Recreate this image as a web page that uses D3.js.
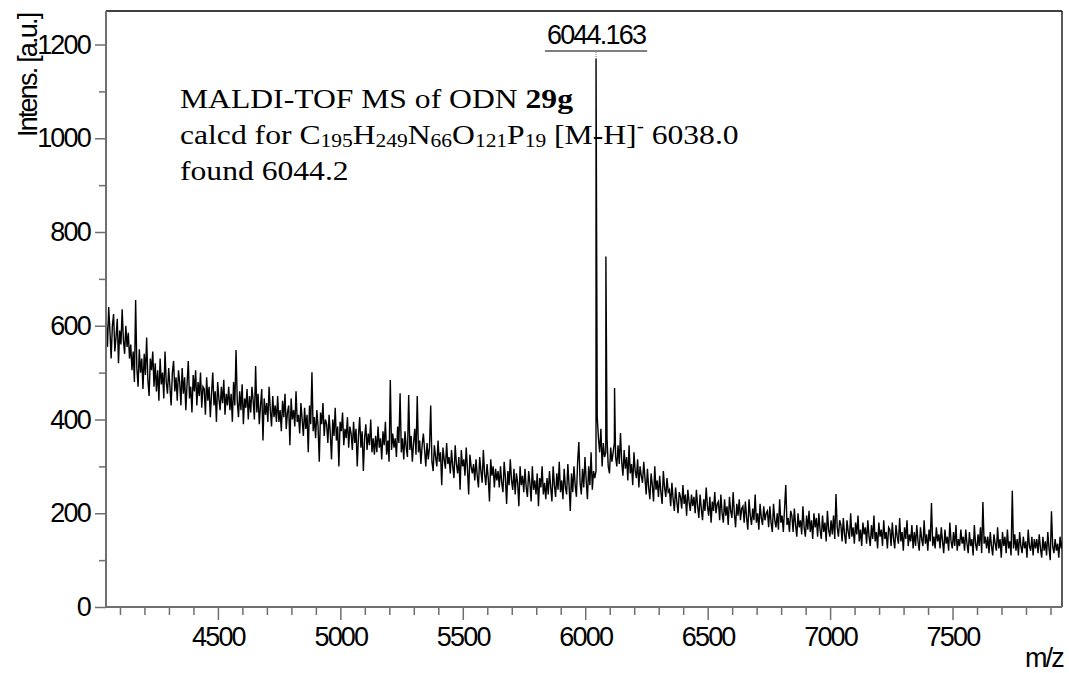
<!DOCTYPE html>
<html>
<head>
<meta charset="utf-8">
<script src="https://cdn.jsdelivr.net/npm/d3@7"></script>
<style>
  html, body { margin: 0; padding: 0; background: #fff; }
  svg { display: block; }
  .sans { font-family: "Liberation Sans", Arial, sans-serif; }
  .serif { font-family: "Liberation Serif", "Times New Roman", serif; }
</style>
</head>
<body>
<svg id="chart" width="1069" height="673"></svg>
<script>
// Background spectrum, sampled every 5 m/z starting at 4044
const mzStart = 4044;
const mzStep = 5;
const intensity = [
  610, 555, 640, 590, 530, 600, 625, 545, 575, 615, 520, 590, 560, 635, 570, 540, 600, 555, 585, 530, // 4044
  560, 505, 545, 480, 655, 510, 470, 550, 500, 530, 465, 540, 495, 575, 485, 450, 530, 505, 545, 470, // 4144
  520, 460, 505, 440, 530, 475, 500, 445, 545, 480, 455, 510, 470, 430, 500, 525, 460, 490, 440, 505, // 4244
  480, 430, 510, 455, 490, 420, 475, 525, 445, 470, 415, 495, 460, 505, 430, 480, 450, 500, 425, 470, // 4344
  465, 410, 490, 440, 470, 405, 455, 500, 430, 460, 395, 480, 445, 420, 470, 435, 485, 410, 455, 430, // 4444
  470, 420, 455, 395, 480, 430, 548, 440, 405, 460, 420, 475, 390, 445, 425, 465, 400, 450, 415, 470, // 4544
  440, 400, 514, 415, 455, 390, 430, 465, 355, 445, 410, 435, 395, 470, 420, 385, 450, 405, 430, 395, // 4644
  450, 395, 420, 375, 440, 405, 455, 380, 415, 430, 345, 445, 400, 420, 385, 460, 395, 410, 370, 435, // 4744
  400, 365, 425, 380, 410, 330, 430, 390, 501, 375, 405, 360, 420, 385, 310, 415, 390, 435, 365, 400, // 4844
  390, 350, 410, 370, 315, 400, 365, 425, 355, 385, 300, 395, 375, 415, 345, 380, 360, 405, 340, 385, // 4944
  370, 335, 395, 350, 380, 300, 365, 405, 340, 375, 290, 360, 390, 335, 370, 345, 400, 330, 360, 325, // 5044
  365, 330, 385, 340, 360, 315, 375, 345, 395, 325, 355, 310, 484, 335, 370, 340, 360, 320, 385, 350, // 5144
  456, 330, 360, 315, 375, 340, 320, 452, 335, 365, 310, 350, 380, 325, 450, 330, 355, 305, 345, 370, // 5244
  335, 300, 350, 315, 340, 430, 310, 290, 345, 320, 300, 355, 310, 330, 260, 340, 315, 295, 350, 305, // 5344
  320, 285, 335, 300, 275, 345, 305, 285, 320, 250, 335, 300, 315, 280, 340, 295, 240, 325, 300, 285, // 5444
  305, 270, 315, 280, 255, 320, 290, 265, 335, 285, 260, 305, 275, 225, 315, 280, 300, 255, 295, 270, // 5544
  290, 255, 300, 265, 245, 310, 275, 220, 290, 260, 315, 270, 250, 295, 240, 285, 265, 215, 300, 260, // 5644
  280, 245, 295, 255, 235, 290, 265, 225, 300, 250, 270, 240, 285, 215, 275, 255, 300, 240, 265, 230, // 5744
  275, 240, 290, 255, 225, 300, 260, 235, 285, 250, 310, 245, 270, 230, 295, 255, 240, 305, 260, 205, // 5844
  285, 245, 300, 260, 235, 310, 352, 265, 240, 295, 255, 320, 270, 230, 300, 260, 330, 250, 290, 275, // 5944
  290, 405, 360, 330, 380, 300, 350, 320, 330, 360, 300, 285, 340, 310, 330, 350, 320, 300, 345, 305, // 6044
  371, 310, 280, 335, 295, 320, 270, 345, 285, 305, 260, 330, 290, 275, 315, 255, 300, 280, 265, 310, // 6144
  275, 240, 295, 255, 230, 285, 260, 225, 300, 250, 270, 235, 280, 245, 220, 290, 255, 235, 275, 245, // 6244
  250, 215, 265, 230, 205, 255, 225, 200, 245, 235, 210, 260, 220, 240, 195, 250, 225, 205, 240, 215, // 6344
  235, 200, 250, 215, 190, 240, 210, 185, 230, 205, 255, 215, 195, 235, 180, 225, 205, 245, 200, 220, // 6444
  225, 185, 240, 200, 180, 230, 195, 215, 175, 235, 205, 190, 245, 200, 170, 220, 195, 230, 185, 210, // 6544
  215, 180, 225, 190, 165, 230, 195, 175, 210, 185, 240, 180, 200, 165, 220, 190, 175, 215, 185, 200, // 6644
  205, 170, 215, 180, 160, 220, 185, 170, 200, 165, 230, 180, 195, 160, 210, 260, 175, 190, 160, 205, // 6744
  195, 160, 210, 175, 150, 200, 170, 185, 155, 215, 170, 150, 195, 165, 205, 160, 185, 145, 200, 170, // 6844
  190, 150, 200, 165, 145, 195, 160, 180, 140, 205, 165, 150, 185, 155, 195, 145, 241, 170, 150, 185, // 6944
  175, 140, 190, 155, 135, 185, 160, 145, 200, 150, 170, 135, 180, 155, 195, 140, 165, 130, 180, 155, // 7044
  170, 135, 185, 150, 130, 175, 145, 195, 140, 160, 125, 180, 150, 165, 130, 185, 145, 160, 125, 170, // 7144
  165, 130, 180, 145, 125, 175, 150, 135, 190, 140, 160, 120, 170, 145, 185, 130, 155, 140, 175, 125, // 7244
  160, 130, 175, 140, 120, 170, 145, 130, 185, 135, 155, 120, 165, 140, 222, 130, 150, 125, 170, 140, // 7344
  155, 125, 170, 140, 115, 165, 135, 150, 120, 180, 140, 125, 160, 130, 175, 120, 145, 130, 165, 135, // 7444
  150, 120, 165, 135, 115, 160, 130, 145, 110, 175, 135, 120, 155, 130, 170, 115, 224, 135, 150, 125, // 7544
  150, 115, 160, 130, 110, 155, 135, 120, 170, 125, 145, 105, 160, 130, 150, 115, 165, 125, 140, 110, // 7644
  248, 125, 155, 120, 145, 110, 160, 130, 115, 150, 125, 140, 105, 165, 130, 120, 150, 110, 145, 125, // 7744
  145, 115, 155, 125, 105, 150, 120, 140, 110, 160, 125, 100, 204, 130, 115, 145, 120, 135, 105, 150, // 7844
  125, 140, 115                                                                                        // 7944
];

// Resolved peaks of the oligonucleotide
const peakMz = [6044.163, 6084.4, 6119.8];
const peakIntensity = [1170, 748, 467];
const labelledPeak = 0;

// Axis ticks
const yMajorTicks = [0, 200, 400, 600, 800, 1000, 1200];
const yMinorTicks = [100, 300, 500, 700, 900, 1100];
const xMajorTicks = [4500, 5000, 5500, 6000, 6500, 7000, 7500];
const xMinorTicks = d3.range(4100, 8000, 100).filter(v => v % 500 !== 0);

const xLabel = "m/z";
const yLabel = "Intens. [a.u.]";

const svg = d3.select("#chart");
const plot = { left: 106, right: 1062, top: 11, bottom: 607 };
const axisGrey = "#6f6f6f";

const x = d3.scaleLinear().domain([4043, 7947]).range([plot.left, plot.right]);
const y = d3.scaleLinear().domain([0, 1271.5]).range([plot.bottom, plot.top]);

// Merge the sampled background with the peak centroids
const points = intensity.map((v, i) => ({ mz: mzStart + i * mzStep, v }))
  .concat(peakMz.map((m, i) => ({ mz: m, v: peakIntensity[i] })))
  .sort((a, b) => a.mz - b.mz);

svg.append("defs").append("clipPath").attr("id", "plotClip")
  .append("rect")
  .attr("x", plot.left).attr("y", plot.top)
  .attr("width", plot.right - plot.left).attr("height", plot.bottom - plot.top);

// Annotation block (Times, slightly widened)
const note = svg.append("g").attr("class", "serif").attr("font-size", 28).attr("fill", "#000")
  .attr("transform", "translate(180,0) scale(1.13,1) translate(-180,0)");
const l1 = note.append("text").attr("x", 180).attr("y", 108);
l1.append("tspan").text("MALDI-TOF MS of ODN ");
l1.append("tspan").attr("font-weight", "bold").text("29g");

const l2 = note.append("text").attr("x", 180).attr("y", 144);
const formula = [
  ["calcd for C", false], ["195", true], ["H", false], ["249", true],
  ["N", false], ["66", true], ["O", false], ["121", true], ["P", false], ["19", true],
  [" [M-H]", false]
];
const subShift = 3;
let lowered = false;
formula.forEach(([t, sub]) => {
  const s = l2.append("tspan").text(t);
  if (sub) {
    s.attr("font-size", 19);
    if (!lowered) { s.attr("dy", subShift); lowered = true; }
  } else if (lowered) {
    s.attr("dy", -subShift); lowered = false;
  }
});
l2.append("tspan").attr("font-size", 19).attr("dy", -12).text("-");
l2.append("tspan").attr("dy", 12).text(" 6038.0");

note.append("text").attr("x", 180).attr("y", 180).text("found 6044.2");

// Spectrum trace
const line = d3.line().x(d => x(d.mz)).y(d => y(d.v));
svg.append("path")
  .datum(points)
  .attr("clip-path", "url(#plotClip)")
  .attr("fill", "none")
  .attr("stroke", "#000")
  .attr("stroke-width", 1.4)
  .attr("stroke-linejoin", "miter")
  .attr("d", line);

// Frame: top and right in black
svg.append("line").attr("x1", plot.left).attr("x2", plot.right).attr("y1", plot.top).attr("y2", plot.top)
  .attr("stroke", "#000").attr("stroke-width", 1.3);
svg.append("line").attr("x1", plot.right).attr("x2", plot.right).attr("y1", plot.top).attr("y2", plot.bottom)
  .attr("stroke", "#000").attr("stroke-width", 1.3);

function styleAxis(g) {
  g.select(".domain").attr("stroke", axisGrey).attr("stroke-width", 2);
  g.selectAll(".tick line").attr("stroke", axisGrey).attr("stroke-width", 1.5);
  g.selectAll(".tick text")
    .attr("class", "sans")
    .attr("fill", "#000")
    .attr("font-size", 27)
    .attr("letter-spacing", "-1.8px");
}

// Y axis
svg.append("g").attr("transform", `translate(${plot.left},0)`)
  .call(d3.axisLeft(y).tickValues(yMinorTicks).tickSize(7).tickFormat(""))
  .call(g => { styleAxis(g); g.select(".domain").remove(); });
svg.append("g").attr("transform", `translate(${plot.left},0)`)
  .call(d3.axisLeft(y).tickValues(yMajorTicks).tickSize(11).tickSizeOuter(0).tickPadding(5).tickFormat(d3.format("d")))
  .call(styleAxis)
  .call(g => g.select(".domain").attr("d", `M0,${plot.bottom}V${plot.top}`));

// X axis
svg.append("g").attr("transform", `translate(0,${plot.bottom})`)
  .call(d3.axisBottom(x).tickValues(xMinorTicks).tickSize(8).tickFormat(""))
  .call(g => { styleAxis(g); g.select(".domain").remove(); });
svg.append("g").attr("transform", `translate(0,${plot.bottom})`)
  .call(d3.axisBottom(x).tickValues(xMajorTicks).tickSize(13).tickSizeOuter(0).tickPadding(7).tickFormat(d3.format("d")))
  .call(styleAxis)
  .call(g => g.select(".domain").attr("d", `M${plot.left},0H${plot.right}`));

// Axis titles
svg.append("text").attr("class", "sans")
  .attr("transform", `translate(37,137) rotate(-90)`)
  .attr("font-size", 27).attr("letter-spacing", "-1.8px")
  .attr("text-anchor", "start")
  .text(yLabel);
svg.append("text").attr("class", "sans")
  .attr("x", plot.right + 1).attr("y", 667)
  .attr("font-size", 27).attr("letter-spacing", "-1.8px")
  .attr("text-anchor", "end")
  .text(xLabel);

// Peak label with underline and leader
const px = x(peakMz[labelledPeak]);
const py = y(peakIntensity[labelledPeak]);
const lbl = svg.append("text").attr("class", "sans")
  .attr("x", px).attr("y", 44)
  .attr("font-size", 27).attr("letter-spacing", "-1.8px")
  .attr("text-anchor", "middle")
  .text(peakMz[labelledPeak].toFixed(3));
const w = lbl.node().getComputedTextLength();
svg.append("line")
  .attr("x1", px - w / 2 - 2).attr("x2", px + w / 2 + 2)
  .attr("y1", 51).attr("y2", 51)
  .attr("stroke", "#555").attr("stroke-width", 1.5);
svg.append("line")
  .attr("x1", px).attr("x2", px).attr("y1", 52).attr("y2", py)
  .attr("stroke", "#777").attr("stroke-width", 1).attr("stroke-dasharray", "1,1");
</script>
</body>
</html>
